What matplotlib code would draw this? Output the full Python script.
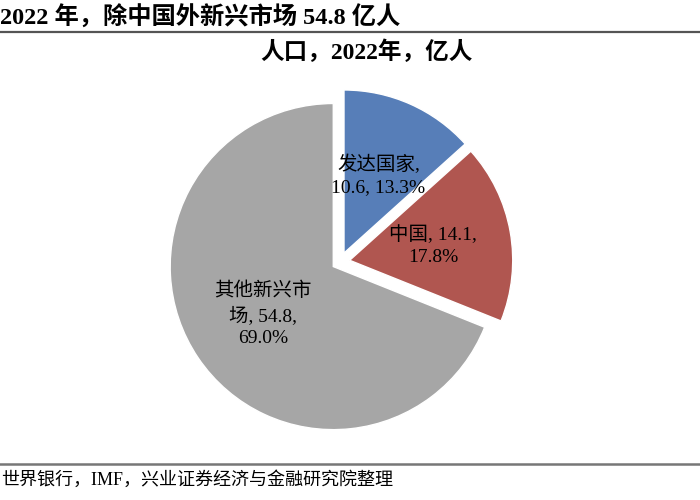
import matplotlib
matplotlib.use("Agg")
import matplotlib.pyplot as plt
from matplotlib.lines import Line2D

plt.rcParams['font.family'] = ['Liberation Serif', 'Noto Sans CJK SC']

# 数据
names = ["发达国家", "中国", "其他新兴市场"]
values = [10.6, 14.1, 54.8]
shares = ["13.3%", "17.8%", "69.0%"]
colors = ["#577EB8", "#B05650", "#A6A6A6"]

# 按原图的换行方式
labels = [names[0] + ",\n" + "%.1f, %s" % (values[0], shares[0]),
          names[1] + ", %.1f,\n%s" % (values[1], shares[1]),
          names[2][:5] + "\n" + names[2][5:] + ", %.1f,\n%s" % (values[2], shares[2])]

fig = plt.figure(figsize=(7, 5), dpi=100)

# 顶部标题和分隔线
fig.text(0.0, 0.965, "2022 年，除中国外新兴市场 54.8 亿人", fontsize=17.5,
         fontweight='bold', ha='left', va='center')
fig.add_artist(Line2D([0, 1], [0.936, 0.936], color='#555555', lw=1.6))
fig.text(0.523, 0.895, "人口，2022年，亿人", fontsize=17, fontweight='bold',
         ha='center', va='center')

# 饼图
ax = fig.add_axes([0.1829, 0.052, 0.6057, 0.848])
ax.pie(values, labels=labels, colors=colors, startangle=90, counterclock=False,
       explode=[0.06, 0.06, 0.05], labeldistance=0.52,
       wedgeprops=dict(edgecolor='white', linewidth=1),
       textprops=dict(fontsize=14, ha='center', va='center',
                      multialignment='center', color='black',
                      linespacing=1.4))
ax.set_xlim(-1.3, 1.3)
ax.set_ylim(-1.3, 1.3)
ax.set_aspect('equal')
ax.axis('off')

# 底部来源
fig.add_artist(Line2D([0, 1], [0.072, 0.072], color='#777777', lw=1.8))
fig.text(0.002, 0.04, "世界银行，IMF，兴业证券经济与金融研究院整理", fontsize=13,
         ha='left', va='center')

fig.savefig("out.png", dpi=100)
